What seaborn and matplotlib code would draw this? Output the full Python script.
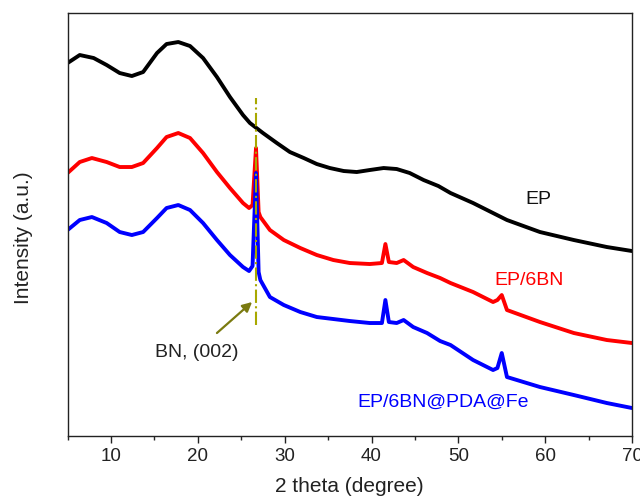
import matplotlib
matplotlib.use("Agg")
import matplotlib.pyplot as plt
import seaborn as sns
import pandas as pd
from matplotlib.ticker import MultipleLocator

# ---- data (2theta in degrees, intensity in arbitrary units) ----
ep_x = [5, 6.4, 8.0, 9.5, 11.0, 12.4, 13.7, 15.3, 16.4, 17.75, 19.1, 20.6, 22.2,
        23.7, 25.2, 26.0, 27.5, 29.1, 30.6, 32.2, 33.7, 35.2, 36.8, 38.3, 39.8,
        41.4, 42.9, 44.4, 46.0, 47.7, 49.1, 51.7, 55.6, 59.4, 63.3, 67.1, 70]
ep_y = [373, 381, 378, 371, 363, 360, 364, 383, 392, 394, 390, 378, 359,
        339, 321, 313, 303, 293, 284, 278, 272, 268, 265, 264, 266,
        268, 267, 263, 256, 250, 243, 233, 216, 204, 196, 189, 185]

bn_x = [5, 6.4, 7.8, 9.5, 11.0, 12.4, 13.7, 15.3, 16.4, 17.75, 19.1, 20.6, 22.2,
        23.7, 25.2, 25.9, 26.3, 26.7, 27.0, 27.2, 28.3, 29.9, 31.8, 33.7, 35.6,
        37.5, 39.8, 41.2, 41.6, 42.0, 42.9, 43.7, 44.8, 46.4, 47.9, 49.1, 51.7,
        54.0, 54.5, 55.0, 55.6, 59.4, 63.3, 67.1, 70]
bn_y = [263, 274, 278, 274, 269, 269, 273, 288, 299, 303, 298, 283, 264,
        248, 233, 228, 231, 288, 224, 219, 206, 196, 188, 181, 176,
        173, 172, 173, 192, 174, 173, 176, 169, 163, 158, 153, 144,
        134, 136, 141, 126, 114, 103, 96, 93]

fe_x = [5, 6.4, 7.8, 9.5, 11.0, 12.4, 13.7, 15.3, 16.4, 17.75, 19.1, 20.6, 22.2,
        23.7, 25.2, 25.9, 26.3, 26.7, 27.0, 27.2, 28.3, 29.9, 31.8, 33.7, 35.6,
        37.5, 39.8, 41.2, 41.6, 42.0, 42.9, 43.7, 44.8, 46.4, 47.9, 49.1, 51.7,
        54.0, 54.5, 55.0, 55.6, 59.4, 63.3, 67.1, 70]
fe_y = [206, 216, 219, 213, 204, 201, 204, 218, 228, 231, 226, 213, 196,
        181, 169, 165, 170, 263, 164, 156, 139, 131, 124, 119, 117,
        115, 113, 113, 136, 114, 113, 116, 109, 103, 95, 91, 76,
        66, 68, 83, 59, 49, 41, 33, 28]

series_names = ["EP", "EP/6BN", "EP/6BN@PDA@Fe"]
series_colors = ["#000000", "#ff0000", "#0000ff"]
peak_pos = 26.7
peak_label = "BN, (002)"

frames = []
for name, xs, ys in zip(series_names, [ep_x, bn_x, fe_x], [ep_y, bn_y, fe_y]):
    frames.append(pd.DataFrame({"theta": xs, "intensity": ys, "sample": name}))
df = pd.concat(frames, ignore_index=True)

sns.set_style("ticks")
plt.rcParams["font.family"] = ["Liberation Sans", "DejaVu Sans"]

fig = plt.figure(figsize=(6.4, 4.97), dpi=100)
ax = fig.add_axes([0.1056, 0.1227, 0.8819, 0.8511])

sns.lineplot(data=df, x="theta", y="intensity", hue="sample",
             palette=dict(zip(series_names, series_colors)),
             hue_order=series_names, linewidth=2.8, legend=False, ax=ax,
             sort=False, estimator=None)

ax.set_xlim(5, 70)
ax.set_ylim(0, 423)

# dash-dot marker line for BN (002)
ax.axvline(peak_pos, ymin=(436 - 325) / 423, ymax=(436 - 98) / 423,
           color="#a8a800", linestyle="-.", linewidth=1.5)
ax.annotate("", xy=(26.25, 134), xytext=(22.2, 103),
            arrowprops=dict(arrowstyle="-|>", color="#7a7a10", lw=1.6,
                            mutation_scale=14, shrinkA=0, shrinkB=0))
ax.text(19.9, 84, peak_label, fontsize=14, ha="center", va="center",
        color="#222222")

ax.text(59.2, 237, "EP", fontsize=14, color="#111111", ha="center", va="center")
ax.text(58.2, 156, "EP/6BN", fontsize=14, color="#ff0000", ha="center", va="center")
ax.text(48.25, 34, "EP/6BN@PDA@Fe", fontsize=14, color="#0000ff",
        ha="center", va="center")

ax.set_xticks([10, 20, 30, 40, 50, 60, 70])
ax.xaxis.set_minor_locator(MultipleLocator(5))
ax.tick_params(axis="x", which="major", length=5, width=1, labelsize=13.5,
               direction="out", colors="#222222")
ax.tick_params(axis="x", which="minor", length=3, width=1, direction="out")
ax.set_yticks([])
for s in ax.spines.values():
    s.set_linewidth(1.0)
    s.set_color("#222222")

ax.set_xlabel("2 theta (degree)", fontsize=15, color="#222222", labelpad=9)
ax.set_ylabel("Intensity (a.u.)", fontsize=15, color="#222222")
ax.yaxis.set_label_coords(-0.062, 0.47)

fig.savefig("out.png", dpi=100)
